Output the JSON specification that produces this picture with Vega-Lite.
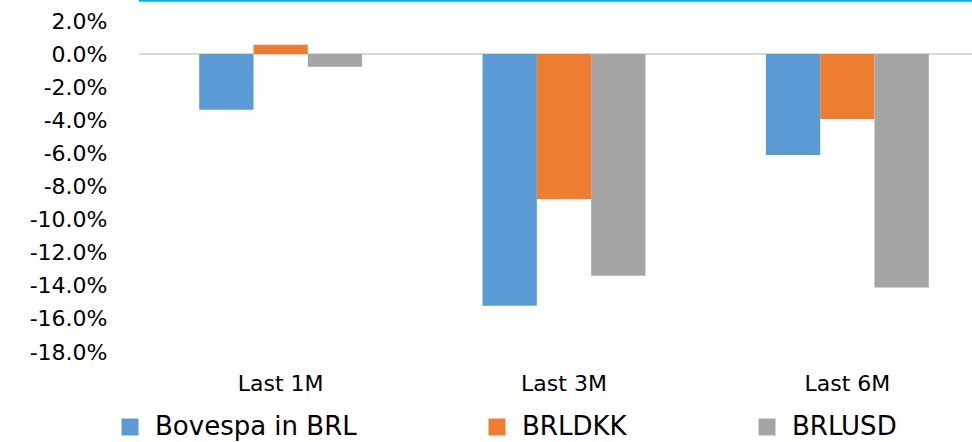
{
  "$schema": "https://vega.github.io/schema/vega-lite/v6.json",
  "autosize": {"type": "none"},
  "padding": {"left": 139, "top": 21, "right": 0, "bottom": 90},
  "width": 833,
  "height": 331,
  "background": "white",
  "config": {
    "view": {"stroke": null},
    "font": "DejaVu Sans",
    "axis": {"labelOverlap": false}
  },
  "data": {
    "values": [
      {"period": "Last 1M", "series": "Bovespa in BRL", "value": -0.0337},
      {"period": "Last 1M", "series": "BRLDKK", "value": 0.0056},
      {"period": "Last 1M", "series": "BRLUSD", "value": -0.0077},
      {"period": "Last 3M", "series": "Bovespa in BRL", "value": -0.152},
      {"period": "Last 3M", "series": "BRLDKK", "value": -0.0877},
      {"period": "Last 3M", "series": "BRLUSD", "value": -0.134},
      {"period": "Last 6M", "series": "Bovespa in BRL", "value": -0.061},
      {"period": "Last 6M", "series": "BRLDKK", "value": -0.0392},
      {"period": "Last 6M", "series": "BRLUSD", "value": -0.141}
    ]
  },
  "encoding": {
    "y": {
      "field": "value",
      "type": "quantitative",
      "scale": {"domain": [-0.18, 0.02], "nice": false, "zero": false},
      "axis": {
        "title": null,
        "values": [0.02, 0, -0.02, -0.04, -0.06, -0.08, -0.1, -0.12, -0.14, -0.16, -0.18],
        "labelExpr": "replace(format(datum.value, '.1%'), '\u2212', '-')",
        "grid": false,
        "domain": false,
        "ticks": false,
        "labelFontSize": 22,
        "labelColor": "#000000",
        "labelPadding": 32,
        "labelOverlap": false,
        "labelFlush": false
      }
    }
  },
  "layer": [
    {
      "data": {"values": [{"value": 0}]},
      "mark": {"type": "rule", "color": "#D9D9D9", "strokeWidth": 2}
    },
    {
      "mark": {"type": "bar"},
      "encoding": {
        "x": {
          "field": "period",
          "type": "nominal",
          "scale": {"range": [0, 850], "paddingInner": 0.425, "paddingOuter": 0.2125},
          "axis": {
            "title": null,
            "labelAngle": 0,
            "domain": false,
            "ticks": false,
            "labelFontSize": 22,
            "labelColor": "#000000",
            "labelPadding": 21,
            "labelOverlap": false
          }
        },
        "xOffset": {
          "field": "series",
          "type": "nominal",
          "scale": {"domain": ["Bovespa in BRL", "BRLDKK", "BRLUSD"], "paddingInner": 0, "paddingOuter": 0}
        },
        "color": {
          "field": "series",
          "type": "nominal",
          "scale": {
            "domain": ["Bovespa in BRL", "BRLDKK", "BRLUSD"],
            "range": ["#5B9BD5", "#ED7D31", "#A5A5A5"]
          },
          "legend": {
            "title": null,
            "orient": "none",
            "direction": "horizontal",
            "legendX": -22,
            "legendY": 393,
            "symbolType": "square",
            "symbolSize": 289,
            "symbolStrokeWidth": 0,
            "labelFontSize": 26,
            "labelColor": "#000000",
            "labelOffset": 12,
            "labelLimit": 500,
            "columnPadding": 127
          }
        }
      }
    },
    {
      "data": {"values": [{"value": 0.0325}]},
      "mark": {"type": "rule", "color": "#00B0F0", "strokeWidth": 3, "clip": false}
    }
  ]
}
